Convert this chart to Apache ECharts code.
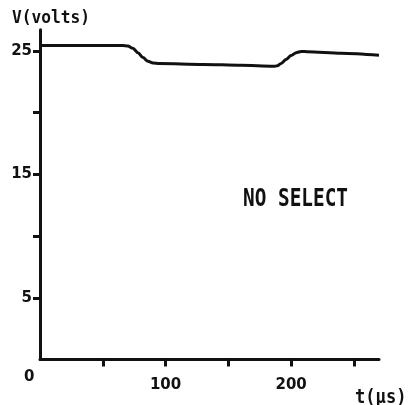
<!DOCTYPE html>
<html>
<head>
<meta charset="utf-8">
<script src="https://cdn.jsdelivr.net/npm/echarts@6/dist/echarts.min.js"></script>
<style>
  html, body { margin: 0; padding: 0; background: #fff; }
  #chart { width: 411px; height: 405px; }
</style>
</head>
<body>
<div id="chart"></div>
<script>
// Supply voltage over time with no select line active
const timeUs = [1, 40, 66, 70, 74, 78, 82, 86, 90, 95, 130, 160, 186, 189, 192, 196, 200, 204, 208, 213, 240, 270];
const volts  = [25.42, 25.42, 25.42, 25.38, 25.2, 24.85, 24.45, 24.15, 24.02, 23.98, 23.9, 23.82, 23.74, 23.78, 23.98, 24.3, 24.62, 24.85, 24.95, 24.93, 24.8, 24.63];

const xTicks = [50, 100, 150, 200, 250];
const xLabels = [100, 200];
const yTicks = [5, 10, 15, 20, 25];
const yLabels = [5, 15, 25];

const ink = '#111';
const mono = '"DejaVu Sans Mono", monospace';
const sans = '"DejaVu Sans", sans-serif';

const chart = echarts.init(document.getElementById('chart'), null, { renderer: 'canvas' });

chart.setOption({
  backgroundColor: '#fff',
  animation: false,
  grid: { left: 40, top: 29.8, width: 339, height: 329.7 },
  xAxis: {
    type: 'value',
    min: 0,
    max: 270,
    axisLine: { lineStyle: { color: ink, width: 3 } },
    axisTick: { show: true, length: 7, customValues: xTicks, lineStyle: { color: ink, width: 3 } },
    axisLabel: { customValues: xLabels, color: ink, fontFamily: sans, fontWeight: 'bold', fontSize: 15, margin: 18 },
    splitLine: { show: false }
  },
  yAxis: {
    type: 'value',
    min: 0,
    max: 26.7,
    axisLine: { show: true, lineStyle: { color: ink, width: 3 } },
    axisTick: { show: true, length: 7, customValues: yTicks, lineStyle: { color: ink, width: 3 } },
    axisLabel: { customValues: yLabels, color: ink, fontFamily: sans, fontWeight: 'bold', fontSize: 15, margin: 8 },
    splitLine: { show: false }
  },
  graphic: [
    { type: 'text', x: 12, y: 9, scaleX: 0.9, style: { text: 'V(volts)', font: 'bold 18px ' + mono, fill: ink } },
    { type: 'text', x: 24, y: 370, style: { text: '0', font: 'bold 15px ' + sans, fill: ink } },
    { type: 'text', x: 355, y: 389, scaleX: 0.9, style: { text: 't(μs)', font: 'bold 19px ' + mono, fill: ink } },
    { type: 'text', x: 243, y: 187, scaleX: 0.775, style: { text: 'NO SELECT', font: 'bold 25px ' + mono, fill: ink } }
  ],
  series: [{
    type: 'line',
    data: timeUs.map((t, i) => [t, volts[i]]),
    smooth: 0.3,
    smoothMonotone: 'x',
    symbol: 'none',
    lineStyle: { color: ink, width: 3 }
  }]
});
</script>
</body>
</html>
